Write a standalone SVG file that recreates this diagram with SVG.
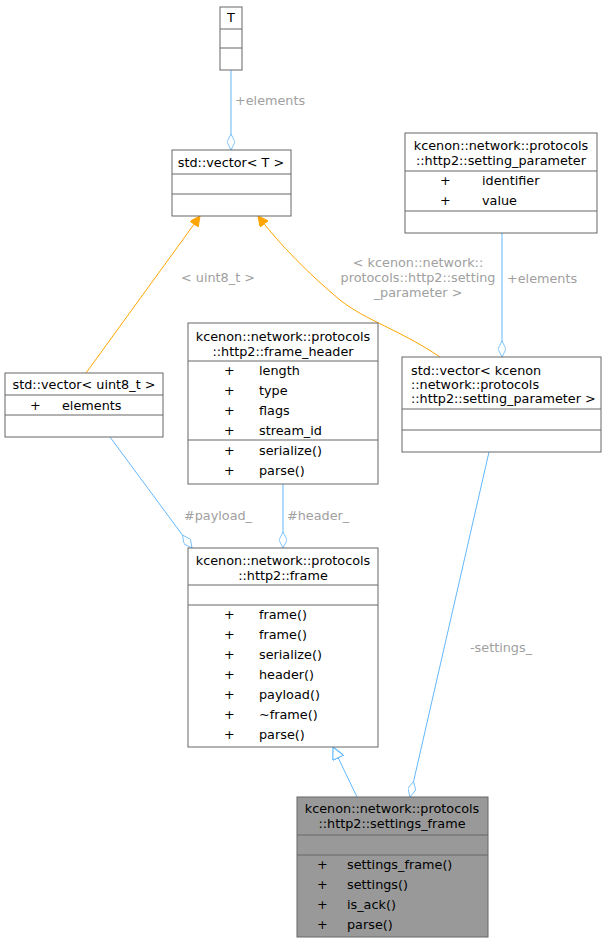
<svg xmlns="http://www.w3.org/2000/svg" width="607" height="943" viewBox="0 0 607 943">
<style>
text{font-family:"DejaVu Sans",sans-serif;font-size:12.8px;fill:#000}
.c{text-anchor:middle}
.l{fill:#a0a0a0}
rect{fill:#fff;stroke:#666;stroke-width:1}
line.d{stroke:#666;stroke-width:1}
.b{stroke:#63b8ff;fill:none}
.o{stroke:#ffa500;fill:none}
</style>
<defs>
<marker id="dia" viewBox="0 0 20 10" refX="20" refY="5" markerWidth="16" markerHeight="8" orient="auto" markerUnits="userSpaceOnUse"><path d="M0,5 L10,0 L20,5 L10,10 Z" fill="#fff" stroke="#63b8ff"/></marker>
<marker id="ora" viewBox="0 0 10 10" refX="10" refY="5" markerWidth="11" markerHeight="10" orient="auto" markerUnits="userSpaceOnUse"><path d="M0,0 L10,5 L0,10 Z" fill="#ffa500" stroke="#ffa500"/></marker>
<marker id="tri" viewBox="0 0 10 10" refX="10" refY="5" markerWidth="13" markerHeight="12" orient="auto" markerUnits="userSpaceOnUse"><path d="M0,0 L10,5 L0,10 Z" fill="#fff" stroke="#63b8ff"/></marker>
</defs>
<g id="edges">
<path class="b" d="M231,70 L231,150" marker-end="url(#dia)"/>
<text class="l" x="235" y="105">+elements</text>
<path class="o" d="M86,373 L200,216" marker-end="url(#ora)"/>
<text class="l c" x="218" y="282">&lt; uint8_t &gt;</text>
<path class="o" d="M440,357 C400,330 365,320 340,300 C310,275 280,245 258,216" marker-end="url(#ora)"/>
<text class="l c" x="418" y="267">&lt; kcenon::network::</text>
<text class="l c" x="418" y="282">protocols::http2::setting</text>
<text class="l c" x="418" y="297">_parameter &gt;</text>
<path class="b" d="M502,233 L502,357" marker-end="url(#dia)"/>
<text class="l" x="507" y="283">+elements</text>
<path class="b" d="M110,437 L192,548" marker-end="url(#dia)"/>
<text class="l" x="184" y="520">#payload_</text>
<path class="b" d="M283,484 L283,548" marker-end="url(#dia)"/>
<text class="l" x="287" y="520">#header_</text>
<path class="b" d="M489,452 L410,797" marker-end="url(#dia)"/>
<text class="l" x="470" y="652">-settings_</text>
<path class="b" d="M357,797 L333,747" marker-end="url(#tri)"/>
</g>
<g id="T">
<rect x="220" y="7" width="22" height="63"/>
<line class="d" x1="220" y1="29" x2="242" y2="29"/><line class="d" x1="220" y1="48" x2="242" y2="48"/>
<text class="c" x="231" y="22">T</text>
</g>
<g id="vectorT">
<rect x="172" y="150" width="119" height="66"/>
<line class="d" x1="172" y1="174" x2="291" y2="174"/><line class="d" x1="172" y1="194" x2="291" y2="194"/>
<text class="c" x="231" y="167">std::vector&lt; T &gt;</text>
</g>
<g id="setting_parameter">
<rect x="405" y="133" width="192" height="100"/>
<line class="d" x1="405" y1="171" x2="597" y2="171"/><line class="d" x1="405" y1="211" x2="597" y2="211"/>
<text class="c" x="501" y="150">kcenon::network::protocols</text>
<text class="c" x="501" y="165">::http2::setting_parameter</text>
<text x="440" y="185">+</text><text x="482" y="185">identifier</text>
<text x="440" y="205">+</text><text x="482" y="205">value</text>
</g>
<g id="vector_uint8">
<rect x="5" y="373" width="158" height="64"/>
<line class="d" x1="5" y1="395" x2="163" y2="395"/><line class="d" x1="5" y1="415" x2="163" y2="415"/>
<text class="c" x="84" y="389">std::vector&lt; uint8_t &gt;</text>
<text x="30" y="410">+</text><text x="62" y="410">elements</text>
</g>
<g id="frame_header">
<rect x="188" y="323" width="190" height="161"/>
<line class="d" x1="188" y1="361" x2="378" y2="361"/><line class="d" x1="188" y1="440" x2="378" y2="440"/>
<text class="c" x="283" y="341">kcenon::network::protocols</text>
<text class="c" x="283" y="356">::http2::frame_header</text>
<text x="224" y="375">+</text><text x="259" y="375">length</text>
<text x="224" y="395">+</text><text x="259" y="395">type</text>
<text x="224" y="415">+</text><text x="259" y="415">flags</text>
<text x="224" y="435">+</text><text x="259" y="435">stream_id</text>
<text x="224" y="455">+</text><text x="259" y="455">serialize()</text>
<text x="224" y="475">+</text><text x="259" y="475">parse()</text>
</g>
<g id="vector_sp">
<rect x="402" y="357" width="199" height="95"/>
<line class="d" x1="402" y1="409" x2="601" y2="409"/><line class="d" x1="402" y1="430" x2="601" y2="430"/>
<text x="411" y="375">std::vector&lt; kcenon</text>
<text x="411" y="389">::network::protocols</text>
<text x="411" y="403">::http2::setting_parameter &gt;</text>
</g>
<g id="frame">
<rect x="188" y="548" width="190" height="199"/>
<line class="d" x1="188" y1="585" x2="378" y2="585"/><line class="d" x1="188" y1="605" x2="378" y2="605"/>
<text class="c" x="283" y="565">kcenon::network::protocols</text>
<text class="c" x="283" y="580">::http2::frame</text>
<text x="224" y="619">+</text><text x="259" y="619">frame()</text>
<text x="224" y="639">+</text><text x="259" y="639">frame()</text>
<text x="224" y="659">+</text><text x="259" y="659">serialize()</text>
<text x="224" y="679">+</text><text x="259" y="679">header()</text>
<text x="224" y="699">+</text><text x="259" y="699">payload()</text>
<text x="224" y="719">+</text><text x="259" y="719">~frame()</text>
<text x="224" y="739">+</text><text x="259" y="739">parse()</text>
</g>
<g id="settings_frame">
<rect x="297" y="797" width="191" height="140" style="fill:#999"/>
<line class="d" x1="297" y1="835" x2="488" y2="835"/><line class="d" x1="297" y1="855" x2="488" y2="855"/>
<text class="c" x="392" y="813">kcenon::network::protocols</text>
<text class="c" x="392" y="828">::http2::settings_frame</text>
<text x="317" y="869">+</text><text x="347" y="869">settings_frame()</text>
<text x="317" y="889">+</text><text x="347" y="889">settings()</text>
<text x="317" y="909">+</text><text x="347" y="909">is_ack()</text>
<text x="317" y="929">+</text><text x="347" y="929">parse()</text>
</g>
</svg>
